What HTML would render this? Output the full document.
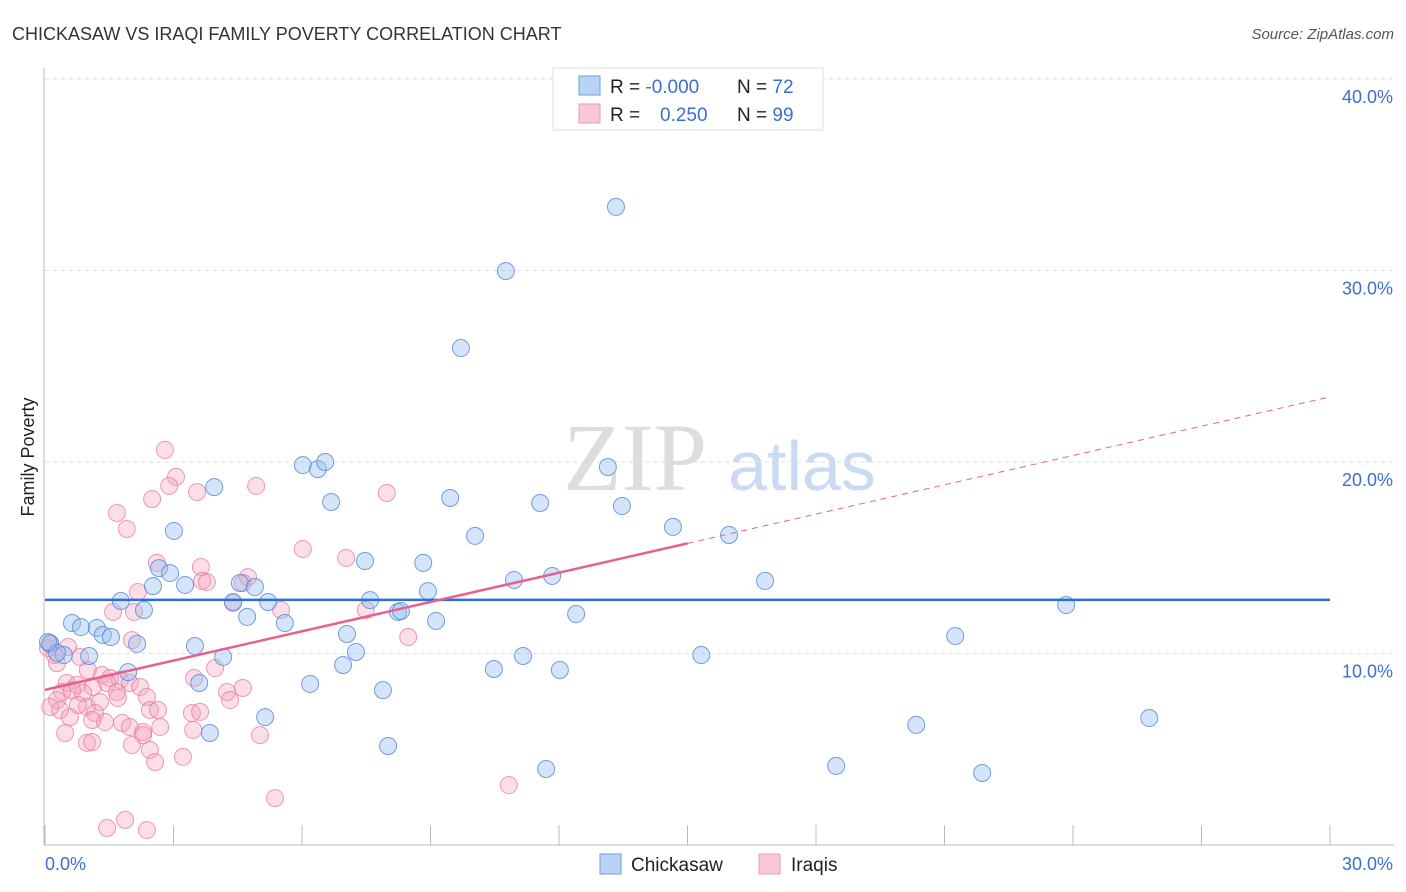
<!DOCTYPE html>
<html><head><meta charset="utf-8"><style>
body{margin:0;background:#fff;font-family:"Liberation Sans",sans-serif}
svg{display:block}
</style></head><body>
<svg id="chart" width="1406" height="892">
<text x="12" y="40" font-size="18" fill="#333">CHICKASAW VS IRAQI FAMILY POVERTY CORRELATION CHART</text>
<text x="1394" y="39" font-size="15" fill="#555" font-style="italic" text-anchor="end">Source: ZipAtlas.com</text>
<text x="635" y="490" font-size="96" fill="#ddd" font-family="Liberation Serif, serif" text-anchor="middle">ZIP</text>
<text x="802" y="490" font-size="70" fill="#c9dbf3" text-anchor="middle">atlas</text>
<text transform="translate(34,457) rotate(-90)" font-size="18" fill="#222" text-anchor="middle">Family Poverty</text>
<g id="grid"></g><g id="marks"></g><g id="lines"></g>
<g>
<rect x="553" y="68" width="270" height="62" fill="#fff" stroke="#ddd"/>
<rect x="579" y="76" width="21" height="19" fill="#b9d3f5" stroke="#6d9de0"/>
<rect x="579" y="104" width="21" height="19" fill="#f9c8d6" stroke="#ec9ab5"/>
<text x="610" y="93" font-size="19" fill="#222">R = <tspan fill="#3a6fd1">-0.000</tspan><tspan x="737">N = </tspan><tspan fill="#3a6fd1">72</tspan></text>
<text x="610" y="121" font-size="19" fill="#222">R = <tspan x="660" fill="#3a6fd1">0.250</tspan><tspan x="737">N = </tspan><tspan fill="#3a6fd1">99</tspan></text>
</g>
<g>
<rect x="600" y="854" width="21" height="20" fill="#b9d3f5" stroke="#6d9de0"/>
<text x="631" y="871" font-size="19" fill="#222">Chickasaw</text>
<rect x="759" y="854" width="21" height="20" fill="#f9c8d6" stroke="#ec9ab5"/>
<text x="791" y="871" font-size="19" fill="#222">Iraqis</text>
</g>
</svg>
<script>
const yTicks=[10,20,30,40];
const yTickLabels=["10.0%","20.0%","30.0%","40.0%"];
const xTickLabels=["0.0%","30.0%"];
const chickX=[13.33,10.76,9.71,6.02,6.37,6.54,13.14,3.95,6.68,9.46,11.56,13.47,3.01,10.04,14.66,15.97,7.47,8.83,2.66,2.92,2.52,3.27,4.55,4.9,10.95,11.84,16.81,8.94,1.77,2.31,4.39,5.21,7.59,8.24,8.31,4.72,5.6,9.13,12.4,0.63,0.84,1.21,1.35,1.54,2.15,7.05,23.84,21.25,3.5,0.12,0.44,1.03,0.28,7.26,4.16,1.94,6.96,10.48,11.16,12.02,15.32,3.6,6.19,7.89,5.14,3.85,8.01,11.7,18.47,20.34,21.88,25.78,0.07];
const chickY=[33.32,29.97,25.95,19.84,19.63,20.0,19.74,18.69,17.91,18.12,17.86,17.7,16.4,16.14,16.61,16.19,14.83,14.73,14.46,14.2,13.52,13.58,13.68,13.47,13.84,14.05,13.79,13.26,12.74,12.27,12.69,12.69,12.79,12.17,12.22,11.91,11.59,11.7,12.06,11.59,11.38,11.33,10.97,10.86,10.5,11.02,12.53,10.91,10.39,10.5,9.92,9.87,10.03,10.08,9.82,9.03,9.4,9.19,9.87,9.14,9.92,8.46,8.41,8.09,6.68,5.85,5.17,3.97,4.13,6.27,3.76,6.63,10.6];
const iraqX=[2.8,3.06,2.9,2.5,3.55,4.93,7.98,1.68,1.91,6.02,7.03,2.61,3.64,3.67,3.78,4.74,4.62,2.17,1.59,2.08,4.39,5.51,7.49,8.48,2.03,0.54,0.12,0.82,0.28,1.0,1.33,1.52,1.75,1.98,0.51,0.75,1.12,1.45,0.4,0.63,0.89,1.68,2.22,0.28,2.38,1.7,1.28,0.98,0.77,2.45,2.64,0.35,0.12,1.17,0.58,1.4,1.1,1.8,1.98,2.69,2.29,0.47,2.29,0.98,1.1,2.03,2.45,2.57,3.22,3.48,3.97,4.25,4.62,4.32,3.43,3.62,3.46,5.02,5.37,1.45,1.87,2.38,10.83,0.07,0.23];
const iraqY=[20.63,19.22,18.75,18.07,18.43,18.75,18.38,17.34,16.5,15.46,14.99,14.73,14.52,13.79,13.73,13.99,13.68,13.21,12.17,12.17,12.64,12.27,12.27,10.86,10.7,10.34,10.55,9.82,9.5,9.14,8.88,8.72,8.62,8.46,8.46,8.36,8.25,8.46,7.99,8.09,7.94,7.99,8.25,7.57,7.73,7.68,7.47,7.21,7.31,7.05,7.05,7.05,7.21,6.89,6.68,6.42,6.53,6.37,6.16,6.16,5.9,5.85,5.74,5.33,5.38,5.22,4.96,4.33,4.6,8.72,9.24,7.99,8.2,7.57,6.89,6.95,6.01,5.74,2.45,0.89,1.31,0.78,3.13,10.29,9.92];
const chickTrend=[12.8,12.8];
const iraqTrend=[8.1,23.4];
const iraqSolidEnd=15.0;

const NS="http://www.w3.org/2000/svg";
const X=v=>45+v/30*1285, Y=v=>845-v*19.15;
function mk(tag,parent,attrs){const e=document.createElementNS(NS,tag);for(const k in attrs)e.setAttribute(k,attrs[k]);parent.appendChild(e);return e;}
const grid=document.getElementById('grid'),marks=document.getElementById('marks'),lines=document.getElementById('lines');
mk('line',grid,{x1:44,y1:68,x2:44,y2:845,stroke:'#bbb'});
mk('line',grid,{x1:44,y1:845,x2:1394,y2:845,stroke:'#bbb'});
yTicks.forEach((t,i)=>{
 const g=mk('line',grid,{x1:45,y1:Y(t),x2:1394,y2:Y(t),stroke:'#ddd','stroke-dasharray':'4,4'});
 
 
 const l=mk('text',grid,{x:1393,y:Y(t)+24,'font-size':18,fill:'#3a6fd1','text-anchor':'end'});
 l.textContent=yTickLabels[i];
 
 
});
for(let i=0;i<=10;i++){const x=X(i*3);
 const t=mk('line',grid,{x1:x,y1:825,x2:x,y2:845,stroke:'#bbb'});
 
 }
const xl0=mk('text',grid,{x:45,y:870,'font-size':18,fill:'#3a6fd1'});xl0.textContent=xTickLabels[0];

const xl1=mk('text',grid,{x:1393,y:870,'font-size':18,fill:'#3a6fd1','text-anchor':'end'});xl1.textContent=xTickLabels[1];

iraqX.forEach((v,i)=>{const c=mk('circle',marks,{cx:X(v),cy:Y(iraqY[i]),r:8.5,fill:'rgba(244,160,188,0.35)',stroke:'rgba(232,120,160,0.75)','stroke-width':1});
 
 });
chickX.forEach((v,i)=>{const c=mk('circle',marks,{cx:X(v),cy:Y(chickY[i]),r:8.5,fill:'rgba(150,190,240,0.4)',stroke:'rgba(80,135,215,0.8)','stroke-width':1});
 
 });
const bl=mk('line',lines,{x1:X(0),y1:Y(chickTrend[0]),x2:X(30),y2:Y(chickTrend[1]),stroke:'#2a6fd6','stroke-width':2.5});

const slope=(iraqTrend[1]-iraqTrend[0])/30;
const pl=mk('line',lines,{x1:X(0),y1:Y(iraqTrend[0]),x2:X(iraqSolidEnd),y2:Y(iraqTrend[0]+slope*iraqSolidEnd),stroke:'#e8608f','stroke-width':2.5});

const pd=mk('line',lines,{x1:X(iraqSolidEnd),y1:Y(iraqTrend[0]+slope*iraqSolidEnd),x2:X(30),y2:Y(iraqTrend[1]),stroke:'#e8608f','stroke-width':1,'stroke-dasharray':'6,5'});

</script>
</body></html>
